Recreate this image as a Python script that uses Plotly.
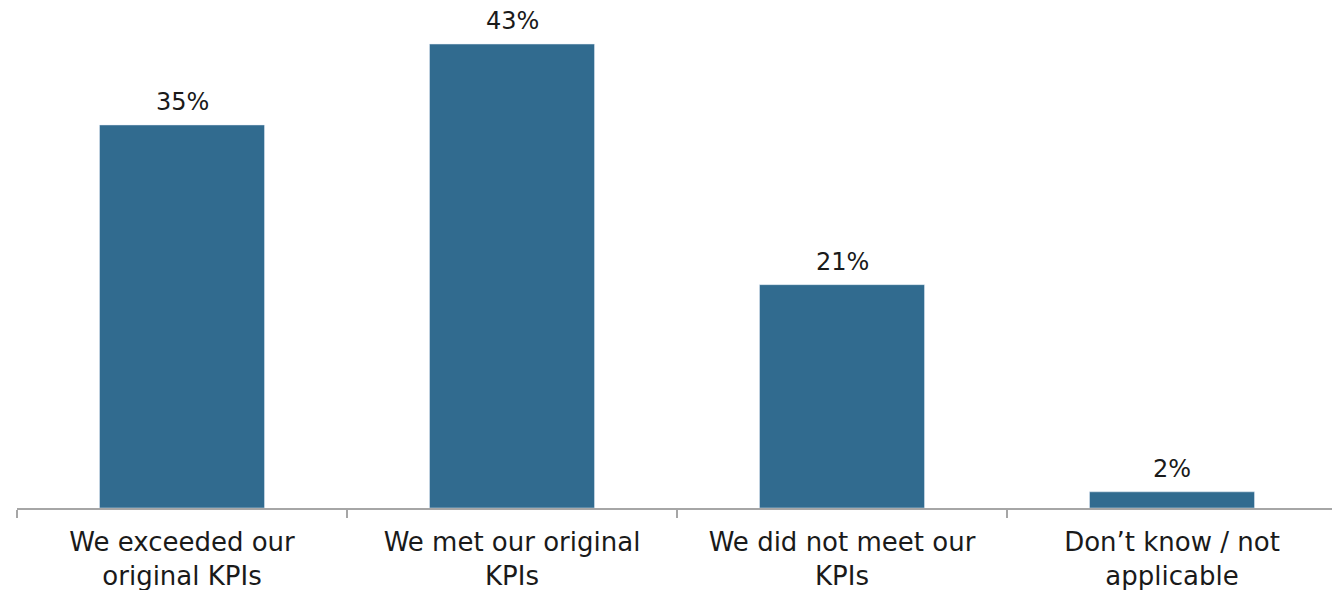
import plotly.graph_objects as go

categories = ["We exceeded our<br>original KPIs", "We met our original<br>KPIs",
              "We did not meet our<br>KPIs", "Don’t know / not<br>applicable"]
values = [35.5, 43.0, 20.7, 1.5]
value_labels = ["35%", "43%", "21%", "2%"]

FONT = "DejaVu Sans"
BAR = "#316b8f"

fig = go.Figure(go.Bar(x=categories, y=values, marker_color=BAR, width=0.5,
                       hoverinfo="skip"))

for c, v, t in zip(categories, values, value_labels):
    fig.add_annotation(x=c, y=v, text=t, showarrow=False, yanchor="bottom",
                       yshift=7, font=dict(family=FONT, size=24, color="#1a1a1a"))

fig.update_layout(
    width=1340, height=590, paper_bgcolor="white", plot_bgcolor="white",
    margin=dict(l=9, r=11, t=0, b=90), showlegend=False,
    xaxis=dict(showline=True, linecolor="#a6a6a6", linewidth=1.5,
               ticks="outside", tickson="boundaries", ticklen=8, tickcolor="#a6a6a6",
               tickwidth=1.5, ticklabelstandoff=10,
               tickfont=dict(family=FONT, size=26, color="#1a1a1a"),
               showgrid=False),
    yaxis=dict(range=[0, 46.34], visible=False, showgrid=False),
)
fig.write_html("out.html")
